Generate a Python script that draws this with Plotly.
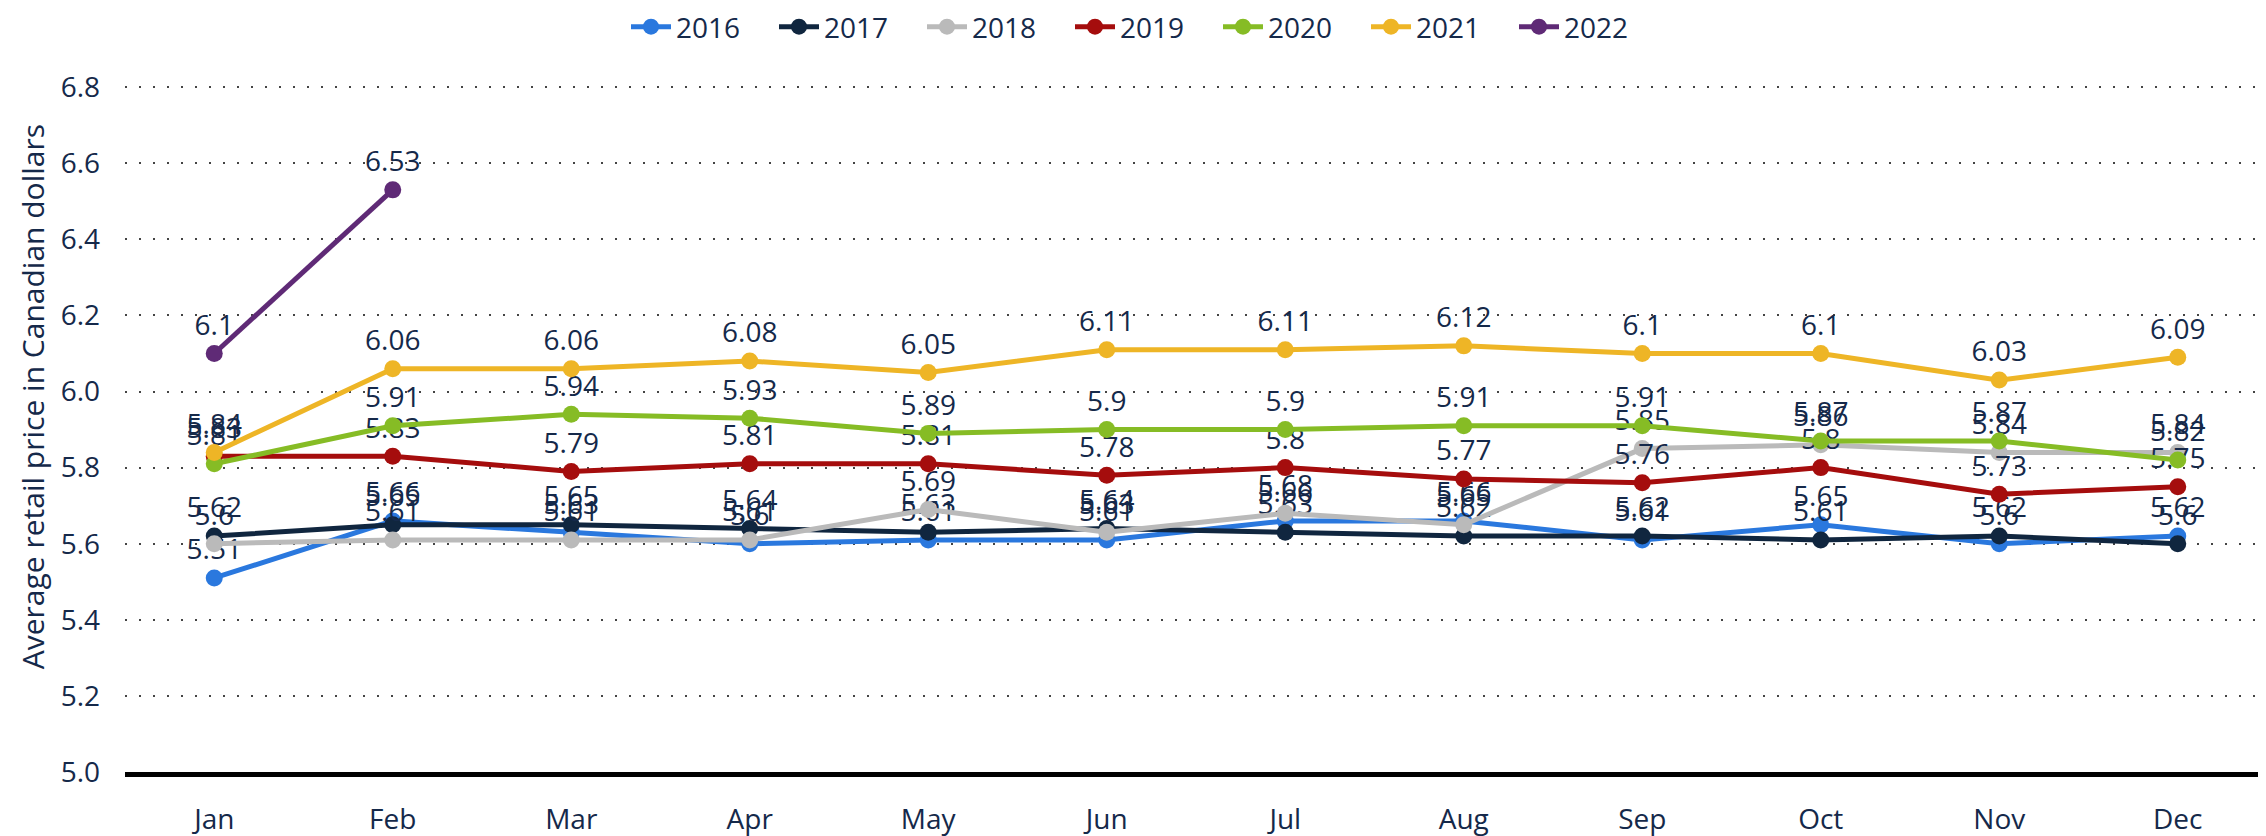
import plotly.graph_objects as go

months = ["Jan", "Feb", "Mar", "Apr", "May", "Jun", "Jul", "Aug", "Sep", "Oct", "Nov", "Dec"]

y2016 = [5.51, 5.66, 5.63, 5.60, 5.61, 5.61, 5.66, 5.66, 5.61, 5.65, 5.60, 5.62]
y2017 = [5.62, 5.65, 5.65, 5.64, 5.63, 5.64, 5.63, 5.62, 5.62, 5.61, 5.62, 5.60]
y2018 = [5.60, 5.61, 5.61, 5.61, 5.69, 5.63, 5.68, 5.65, 5.85, 5.86, 5.84, 5.84]
y2019 = [5.83, 5.83, 5.79, 5.81, 5.81, 5.78, 5.80, 5.77, 5.76, 5.80, 5.73, 5.75]
y2020 = [5.81, 5.91, 5.94, 5.93, 5.89, 5.90, 5.90, 5.91, 5.91, 5.87, 5.87, 5.82]
y2021 = [5.84, 6.06, 6.06, 6.08, 6.05, 6.11, 6.11, 6.12, 6.10, 6.10, 6.03, 6.09]
y2022 = [6.10, 6.53]

series_names = ["2016", "2017", "2018", "2019", "2020", "2021", "2022"]
series_values = [y2016, y2017, y2018, y2019, y2020, y2021, y2022]
colors = ["#2a78de", "#10263f", "#bababa", "#a50d0d", "#86bc25", "#eeb526", "#5f2a76"]

y_title = "Average retail price in Canadian dollars"

text_color = "#15294a"
font_family = "Open Sans, sans-serif"

fig = go.Figure()
for name, vals, col in zip(series_names, series_values, colors):
    fig.add_trace(go.Scatter(
        x=months[:len(vals)], y=vals, name=name,
        mode="lines+markers+text",
        line=dict(color=col, width=5),
        marker=dict(color=col, size=17),
        text=[f"{v:g}" for v in vals],
        textposition="top center",
        textfont=dict(family=font_family, size=28, color=text_color),
        cliponaxis=False,
    ))

fig.add_annotation(
    text=y_title, textangle=-90,
    xref="paper", yref="paper",
    x=(24 - 117) / 2142, y=(780 - 397) / 701,
    xanchor="center", yanchor="middle", showarrow=False,
    font=dict(family=font_family, size=30, color=text_color),
)

fig.update_layout(
    width=2266, height=836,
    margin=dict(l=117, r=7, t=78, b=56),
    paper_bgcolor="white", plot_bgcolor="white",
    font=dict(family=font_family, color=text_color),
    showlegend=True,
    legend=dict(
        orientation="h", x=(1136 - 117) / 2142, xanchor="center",
        y=1 - 19 / 836, yanchor="middle", yref="container",
        font=dict(size=28, color=text_color),
        itemwidth=40, entrywidth=93, entrywidthmode="pixels",
    ),
    xaxis=dict(
        type="category", categoryorder="array", categoryarray=months,
        range=[-0.5, 11.5],
        showgrid=False, zeroline=False,
        showline=True, linecolor="#000000", linewidth=5,
        ticks="", ticklabelstandoff=18,
        tickfont=dict(size=28, color=text_color),
    ),
    yaxis=dict(
        range=[5.0, 6.803], dtick=0.2, tick0=5.0, tickformat=".1f",
        showgrid=True, gridcolor="#444444", gridwidth=2, griddash="2px,12px",
        zeroline=False, showline=False,
        ticks="", ticklabelstandoff=24,
        tickfont=dict(size=28, color=text_color),
    ),
)

fig.write_html("out.html")
